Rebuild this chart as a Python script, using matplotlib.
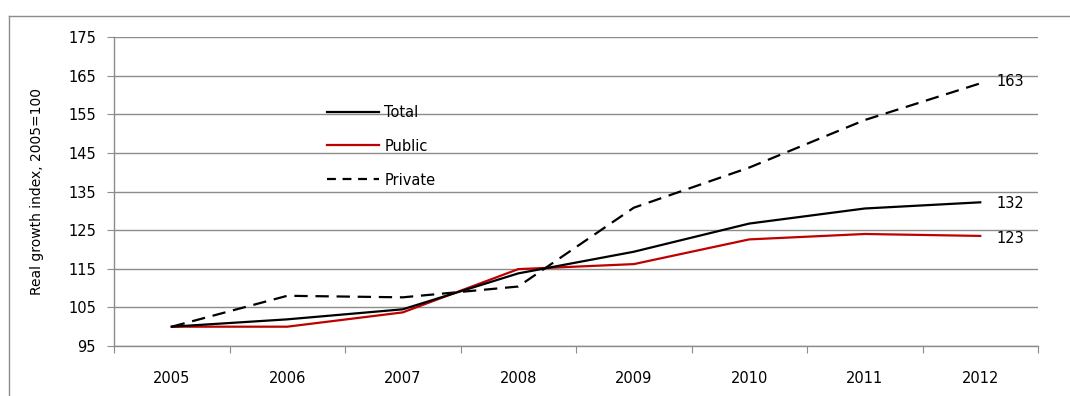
import numpy as np
import matplotlib
matplotlib.use("Agg")
import matplotlib.pyplot as plt
from matplotlib.lines import Line2D

years = ["2005", "2006", "2007", "2008", "2009", "2010", "2011", "2012"]
total = [100, 101.9, 104.5, 113.8, 119.4, 126.7, 130.6, 132.2]
public = [100, 100.0, 103.7, 114.9, 116.2, 122.6, 124.0, 123.5]
private = [100, 108.0, 107.6, 110.4, 130.8, 141.2, 153.5, 163.0]
end_labels = ["132", "123", "163"]
yticks = [95, 105, 115, 125, 135, 145, 155, 165, 175]

plt.rcParams['font.family'] = ['DejaVu Sans']

W, H = 1070, 396
fs = 10.5
fig = plt.figure(figsize=(W / 100, H / 100), dpi=100)
ax = fig.add_axes([114 / W, 1 - 346 / H, (1038 - 114) / W, (346 - 37) / H])

x = np.arange(len(years))
red = "#C00000"
ax.plot(x, private, color="black", lw=1.6, dashes=(6, 3.5), label="Private", zorder=3)
ax.plot(x, public, color=red, lw=1.6, label="Public", zorder=4)
ax.plot(x, total, color="black", lw=1.6, label="Total", zorder=5)

# end labels
ax.annotate(end_labels[0], (x[-1], total[-1]), xytext=(12, -1), textcoords="offset points",
            va="center", ha="left", fontsize=fs)
ax.annotate(end_labels[1], (x[-1], public[-1]), xytext=(12, -2), textcoords="offset points",
            va="center", ha="left", fontsize=fs)
ax.annotate(end_labels[2], (x[-1], private[-1]), xytext=(12, 1), textcoords="offset points",
            va="center", ha="left", fontsize=fs)

ax.set_xlim(-0.5, len(years) - 0.5)
ax.set_ylim(95, 175)
ax.set_yticks(yticks)
ax.yaxis.grid(True, color="#8c8c8c", lw=1)
ax.set_axisbelow(True)

ax.set_xticks(np.arange(len(years) + 1) - 0.5)
ax.set_xticklabels([])
ax.set_xticks(x, minor=True)
ax.set_xticklabels(years, minor=True)
ax.tick_params(axis="x", which="major", direction="out", length=5, color="#8c8c8c")
ax.tick_params(axis="x", which="minor", length=0, pad=18, labelsize=fs)
ax.tick_params(axis="y", direction="out", length=5, color="#8c8c8c", pad=8, labelsize=fs)

for s in ["top", "right"]:
    ax.spines[s].set_visible(False)
for s in ["left", "bottom"]:
    ax.spines[s].set_color("#8c8c8c")
    ax.spines[s].set_linewidth(1)

ax.set_ylabel("Real growth index, 2005=100", fontsize=10)
ax.yaxis.set_label_coords(-70 / 924, 0.5)

handles = [Line2D([], [], color="black", lw=1.6),
           Line2D([], [], color=red, lw=1.6),
           Line2D([], [], color="black", lw=1.6, dashes=(4, 3))]
ax.legend(handles, ["Total", "Public", "Private"], loc="center left",
          bbox_to_anchor=(0.216, 0.647), frameon=False, fontsize=fs,
          handlelength=3.6, handletextpad=0.35, labelspacing=1.3)

# outer chart frame (top and left edges visible)
fig.add_artist(Line2D([9 / W, 1.0], [1 - 16 / H, 1 - 16 / H], color="#8c8c8c", lw=1))
fig.add_artist(Line2D([9 / W, 9 / W], [0, 1 - 16 / H], color="#8c8c8c", lw=1))

fig.savefig("out.png", dpi=100)
